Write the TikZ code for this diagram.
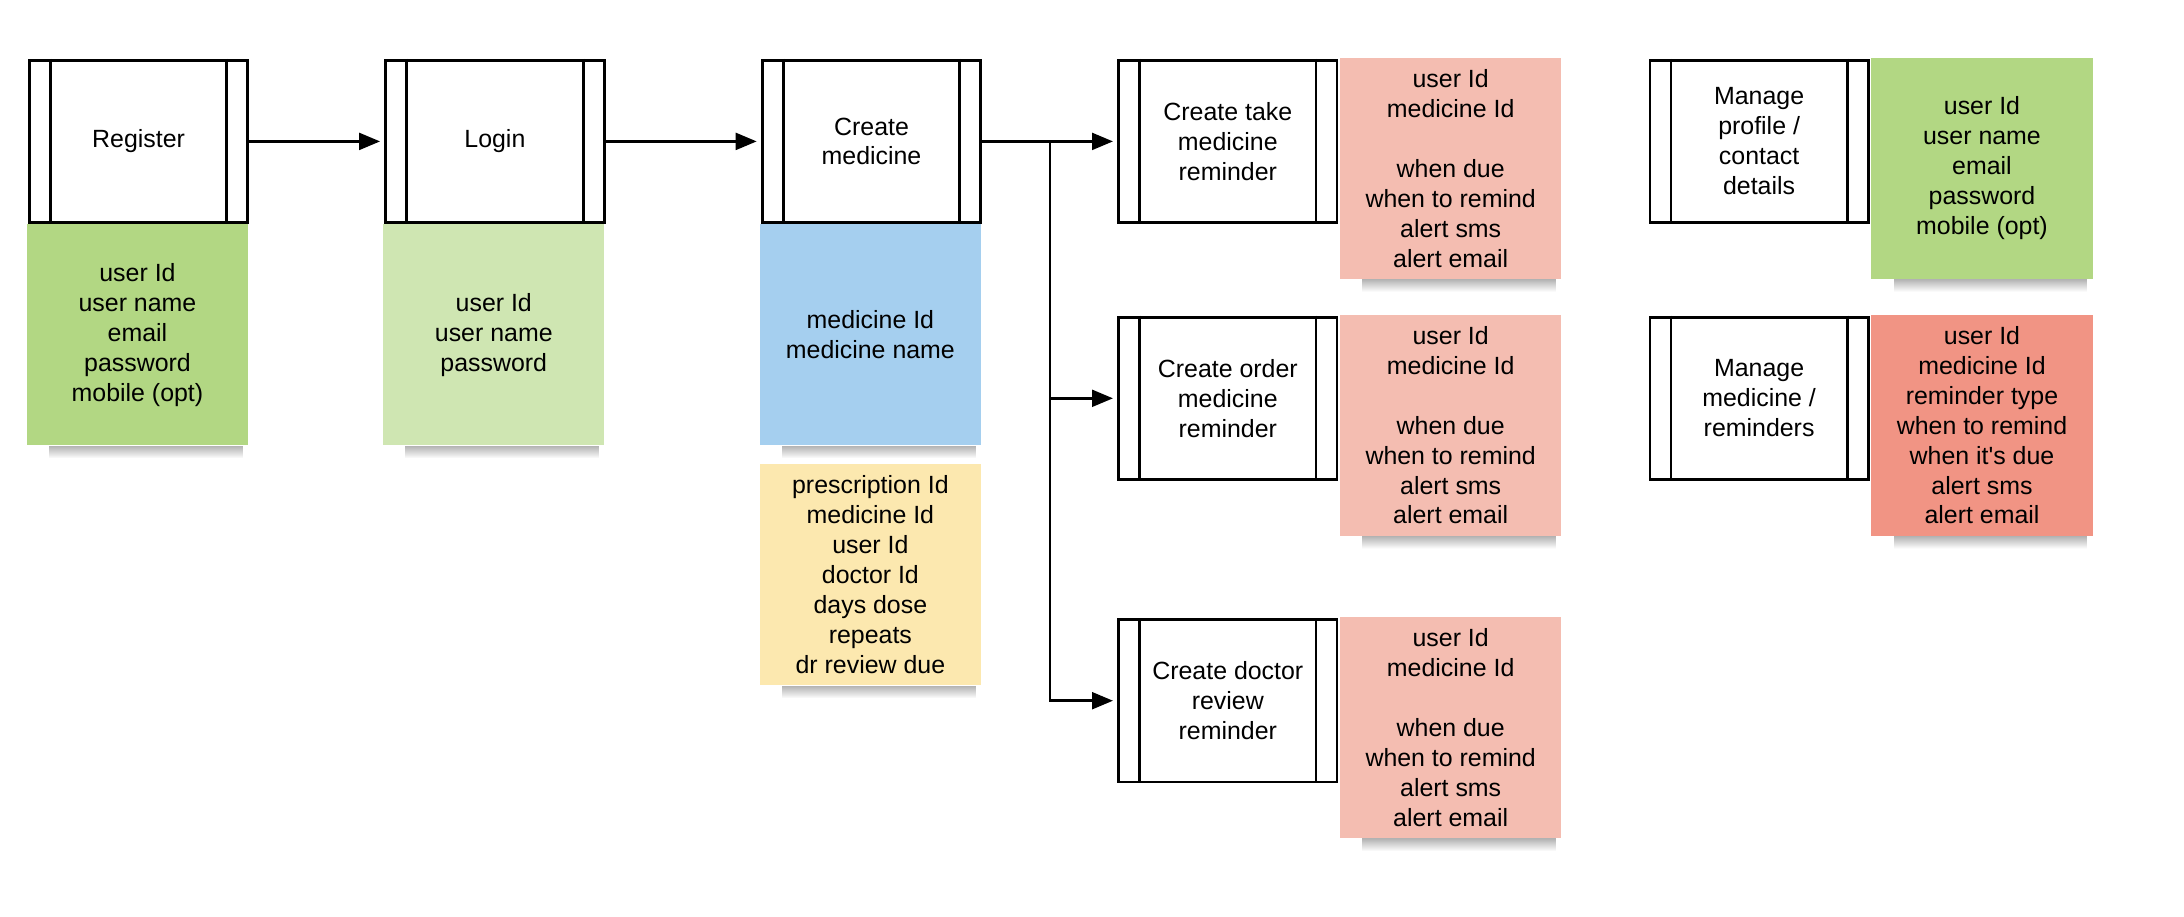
\documentclass[tikz,border=0pt]{standalone}
\usepackage{fontspec}
\setmainfont{Liberation Sans}
\usetikzlibrary{arrows.meta,fadings}

\definecolor{regGreen}{RGB}{178,215,131}
\definecolor{loginGreen}{RGB}{207,230,178}
\definecolor{medBlue}{RGB}{165,207,239}
\definecolor{rxYellow}{RGB}{252,232,175}
\definecolor{remSalmon}{RGB}{244,189,177}
\definecolor{mngSalmon}{RGB}{241,148,132}

\tikzset{
	every node/.style={font=\fontsize{17.8}{21.4}\selectfont},
	procbox/.style={draw, line width=2pt, minimum width=156pt, minimum height=116pt, align=center, inner sep=0pt},
	note/.style={fill=#1, minimum width=158pt, minimum height=158pt, align=center, inner sep=0pt, anchor=north west},
	flow/.style={line width=2pt, -{Triangle[length=15pt,width=12pt]}, shorten >=3pt},
	noteshadow/.style={fill=black, opacity=.3, path fading=south}
}

% box with the two side bars
\newcommand{\procnode}[4]{%
	\node[procbox] (#1) at (#2,#3) {#4};
	\draw[line width=2pt] ([xshift=16pt]#1.north west) -- ([xshift=16pt]#1.south west);
	\draw[line width=2pt] ([xshift=-16pt]#1.north east) -- ([xshift=-16pt]#1.south east);
}

\begin{document}
\begin{tikzpicture}[x=1pt,y=-1pt]
		\useasboundingbox (0,0) rectangle (1560,654.3);
		% Main boxes
		\procnode{reg}{99}{101}{Register}
		\procnode{login}{353.5}{101}{Login}
		\procnode{cmed}{622.5}{101}{Create\\medicine}
		\procnode{take}{877}{101}{Create take\\medicine\\reminder}
		\procnode{order}{877}{284.5}{Create order\\medicine\\reminder}
		\procnode{doctor}{877}{500.5}{Create doctor\\review\\reminder}
		\procnode{mprof}{1256.5}{101}{Manage\\profile /\\contact\\details}
		\procnode{mmed}{1256.5}{284.5}{Manage\\medicine /\\reminders}
		% Notes
		\node[note=regGreen] (regnote) at ([xshift=-1pt]reg.south west)
			{user Id\\user name\\email\\password\\mobile (opt)};
		\node[note=loginGreen] (loginnote) at ([xshift=-1pt]login.south west)
			{user Id\\user name\\password};
		\node[note=medBlue] (mednote) at ([xshift=-1pt]cmed.south west)
			{medicine Id\\medicine name};
		\node[note=rxYellow] (rxnote) at ([yshift=-13pt]mednote.south west)
			{prescription Id\\medicine Id\\user Id\\doctor Id\\days dose\\repeats\\dr review due};
		\node[note=remSalmon] (takenote) at ([xshift=1pt,yshift=1pt]take.north east)
			{user Id\\medicine Id\\[21.4pt]when due\\when to remind\\alert sms\\alert email};
		\node[note=remSalmon] (ordernote) at ([xshift=1pt,yshift=1pt]order.north east)
			{user Id\\medicine Id\\[21.4pt]when due\\when to remind\\alert sms\\alert email};
		\node[note=remSalmon] (doctornote) at ([xshift=1pt,yshift=1pt]doctor.north east)
			{user Id\\medicine Id\\[21.4pt]when due\\when to remind\\alert sms\\alert email};
		\node[note=regGreen] (mprofnote) at ([xshift=1pt,yshift=1pt]mprof.north east)
			{user Id\\user name\\email\\password\\mobile (opt)};
		\node[note=mngSalmon] (mmednote) at ([xshift=1pt,yshift=1pt]mmed.north east)
			{user Id\\medicine Id\\reminder type\\when to remind\\when it\textquotesingle s due\\alert sms\\alert email};
		% Shadows
		\foreach \n in {regnote,loginnote,mednote,rxnote,takenote,ordernote,doctornote,mprofnote,mmednote}
			\fill[noteshadow] ([xshift=16pt]\n.south west) rectangle ([xshift=-4pt,yshift=-9pt]\n.south east);
		% Arrows
		\draw[flow] (reg) -- (login);
		\draw[flow] (login) -- (cmed);
		\draw[flow] (cmed) -- (take);
		\coordinate (split) at (750,101);
		\draw[flow] (split) |- (order.west);
		\draw[flow] (split) |- (doctor.west);
	\end{tikzpicture}
\end{document}
